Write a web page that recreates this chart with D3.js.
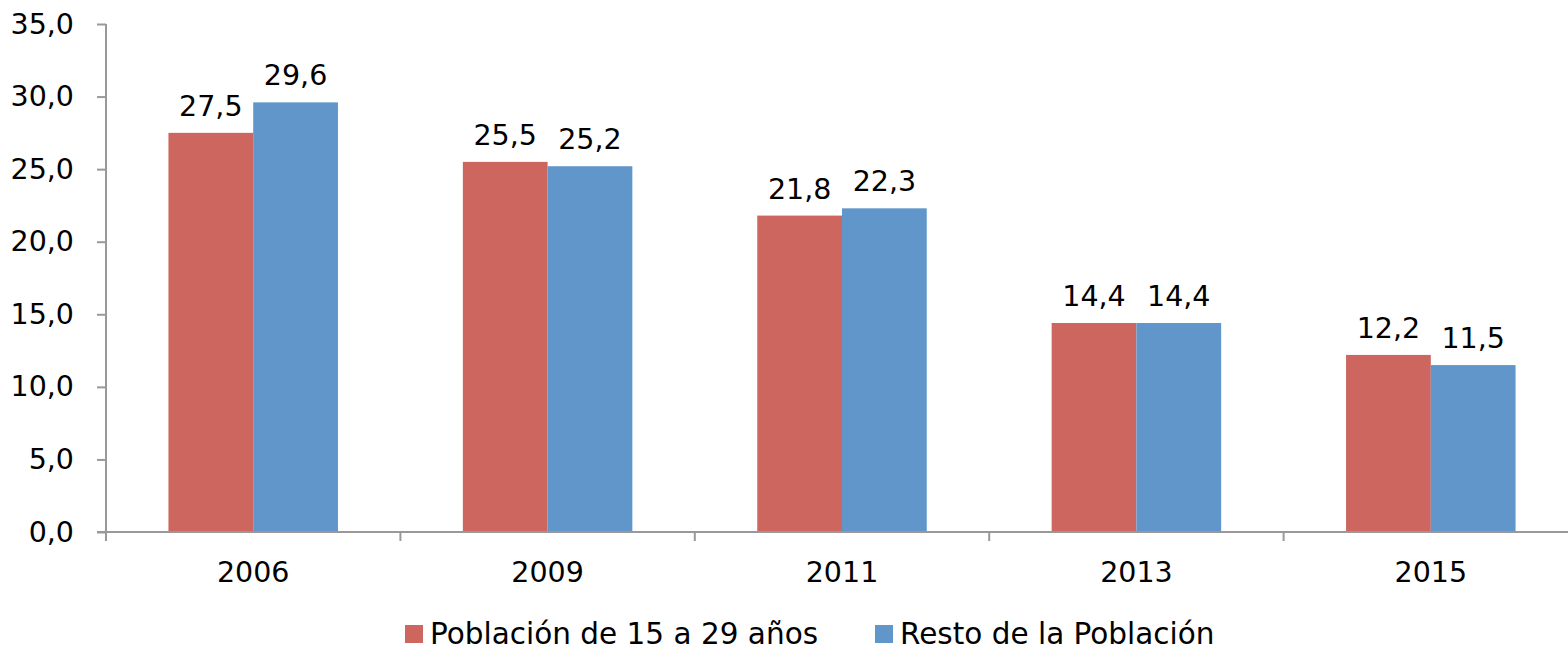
<!DOCTYPE html>
<html><head><meta charset="utf-8">
<script src="https://cdn.jsdelivr.net/npm/d3@7"></script>
<style>body{margin:0;background:#fff;}svg{display:block;font-family:Verdana,"DejaVu Sans",sans-serif;}</style>
</head><body>
<svg id="c" width="1568" height="647"></svg>
<script>
const categories = ["2006","2009","2011","2013","2015"];
const seriesNames = ["Población de 15 a 29 años","Resto de la Población"];
const jovenes = [27.5,25.5,21.8,14.4,12.2];
const resto = [29.6,25.2,22.3,14.4,11.5];
const yTicks = [0,5,10,15,20,25,30,35];
const colors = ["#CC665F","#6096C9"];

(function(){
const svg = d3.select("#c");
const pL = 106, pR = 1578, pT = 24, pB = 532;
const fs = 28.5;
const x = d3.scaleBand().domain(categories).range([pL,pR]).paddingInner(0).paddingOuter(0);
const y = d3.scaleLinear().domain([0,35]).range([pB,pT]);
const groupW = 169.5, barW = groupW/2;
const fmt = v => d3.format(".1f")(v).replace(".", ",");

// y axis
const ya = svg.append("g").attr("transform",`translate(${pL},0)`)
  .call(d3.axisLeft(y).tickValues(yTicks).tickSize(9).tickPadding(23).tickFormat(fmt));
ya.selectAll("path,line").attr("stroke","#999").attr("stroke-width",2);
ya.select("path").attr("d",`M0,${pT}V${pB}`);
ya.selectAll("text").attr("font-size",fs).attr("fill","#000").attr("font-family",'Verdana,"DejaVu Sans",sans-serif');

// bars
const data = categories.map((c,i)=>({c, v:[jovenes[i],resto[i]]}));
const g = svg.append("g");
data.forEach(d=>{
  d.v.forEach((v,j)=>{
    const bx = x(d.c) + (x.bandwidth()-groupW)/2 + j*barW;
    g.append("rect").attr("x",bx).attr("y",y(v)).attr("width",barW).attr("height",y(0)-y(v)).attr("fill",colors[j]);
    g.append("text").attr("x",bx+barW/2).attr("y",y(v)-17).attr("text-anchor","middle")
      .attr("font-size",fs).attr("fill","#000").text(fmt(v));
  });
});

// x axis
const xa = svg.append("g").attr("transform",`translate(0,${pB})`);
xa.append("line").attr("x1",pL-9).attr("x2",pR).attr("stroke","#999").attr("stroke-width",2);
d3.range(categories.length+1).forEach(i=>{
  const tx = pL + i*x.step();
  xa.append("line").attr("x1",tx).attr("x2",tx).attr("y1",0).attr("y2",9).attr("stroke","#999").attr("stroke-width",2);
});
categories.forEach(c=>{
  xa.append("text").attr("x",x(c)+x.bandwidth()/2).attr("y",50).attr("text-anchor","middle")
    .attr("font-size",fs).attr("fill","#000").text(c);
});

// legend
const lg = svg.append("g");
const legendX = [405, 875];
seriesNames.forEach((n,i)=>{
  lg.append("rect").attr("x",legendX[i]).attr("y",625).attr("width",18).attr("height",18).attr("fill",colors[i]);
  lg.append("text").attr("x",legendX[i]+25).attr("y",644).attr("font-size",29.5).attr("fill","#000").text(n);
});
})();
</script>
</body></html>
